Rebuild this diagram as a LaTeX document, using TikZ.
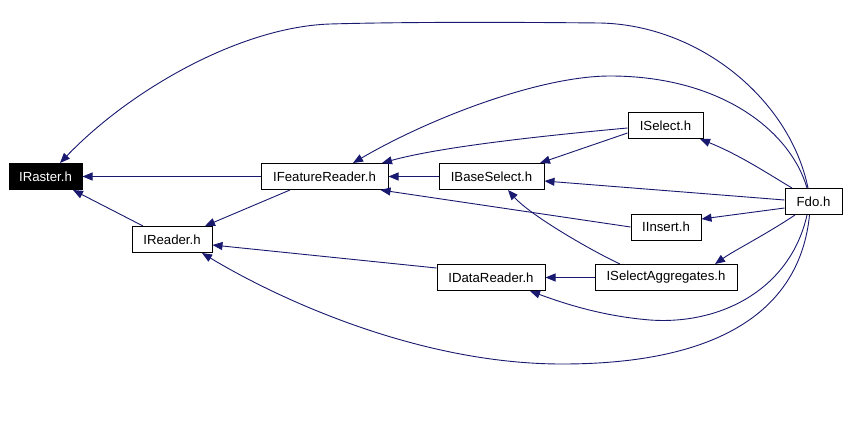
\documentclass[tikz,border=0pt]{standalone}
\usepackage{fontspec}
\setmainfont{Liberation Sans}
\usetikzlibrary{arrows.meta}
\definecolor{edgeblue}{HTML}{191970}
\begin{document}
\begin{tikzpicture}[x=1pt,y=-1pt,
  filebox/.style={draw=black,line width=1pt,fill=white,inner sep=0pt,minimum height=26pt,
    font=\fontsize{13.2}{15}\selectfont,anchor=center},
  rootbox/.style={filebox,fill=black,text=white},
  edge/.style={draw=edgeblue,line width=0.9pt,-{Triangle[length=10pt,width=8pt]}}]
\useasboundingbox[fill=white] (0,0) rectangle (848,431);
% nodes
\node[rootbox,minimum width=73pt] (raster) at (45.5,176.5) {IRaster.h};
\node[filebox,minimum width=127pt] (feat) at (324.5,176.5) {IFeatureReader.h};
\node[filebox,minimum width=80pt] (reader) at (172,239.5) {IReader.h};
\node[filebox,minimum width=75pt] (select) at (665.5,125.5) {ISelect.h};
\node[filebox,minimum width=105pt] (base) at (491.5,176.5) {IBaseSelect.h};
\node[filebox,minimum width=57pt] (fdo) at (813.5,201.5) {Fdo.h};
\node[filebox,minimum width=70pt] (insert) at (666,227) {IInsert.h};
\node[filebox,minimum width=108pt] (dreader) at (491,277.5) {IDataReader.h};
\node[filebox,minimum width=142pt] (aggr) at (666,277.5) {ISelectAggregates.h};
% edges
\draw[edge] (feat.west) -- (raster.east);
\draw[edge] ([xshift=-29pt]reader.north) -- ([xshift=27.5pt]raster.south);
\draw[edge] ([xshift=-5.5pt]fdo.north) .. controls (790,100) and (700,25) .. (600,23)
  .. controls (500,22) and (400,22) .. (330,24)
  .. controls (240,27) and (130,90) .. ([xshift=14.5pt]raster.north);
\draw[edge] ([xshift=-6.5pt]fdo.north) .. controls (790,130) and (720,76) .. (610,76)
  .. controls (540,76) and (430,118) .. ([xshift=28.5pt]feat.north);
\draw[edge] ([xshift=-21.5pt]fdo.north) .. controls (770,175) and (740,155) .. ([xshift=34.5pt]select.south);
\draw[edge] ([yshift=-2.5pt]select.west) .. controls (540,136) and (440,147) .. ([xshift=57.5pt]feat.north);
\draw[edge] (base.west) -- (feat.east);
\draw[edge] (insert.west) -- ([xshift=56pt]feat.south);
\draw[edge] ([yshift=-7.5pt]select.west) -- ([xshift=48.5pt]base.north);
\draw[edge] ([yshift=1.5pt]fdo.west) -- ([yshift=-4.5pt]base.east);
\draw[edge] ([xshift=-46pt]aggr.north) .. controls (590,250) and (530,215) .. ([xshift=16.5pt]base.south);
\draw[edge] ([yshift=-6.5pt]fdo.west) -- ([yshift=8pt]insert.east);
\draw[edge] ([xshift=-18.5pt]fdo.south) .. controls (765,235) and (735,250) .. ([xshift=49pt]aggr.north);
\draw[edge] (aggr.west) -- (dreader.east);
\draw[edge] ([xshift=-6.5pt]fdo.south) .. controls (790,290) and (720,325) .. (650,320)
  .. controls (600,316) and (560,302) .. ([xshift=39pt]dreader.south);
\draw[edge] ([xshift=-4pt]fdo.south) .. controls (800,310) and (720,364) .. (562,364)
  .. controls (420,364) and (280,300) .. ([xshift=30pt]reader.south);
\draw[edge] ([xshift=-34.5pt]feat.south) -- ([xshift=33pt]reader.north);
\draw[edge] ([yshift=9.5pt]dreader.west) -- ([yshift=-5.5pt]reader.east);
\end{tikzpicture}
\end{document}
